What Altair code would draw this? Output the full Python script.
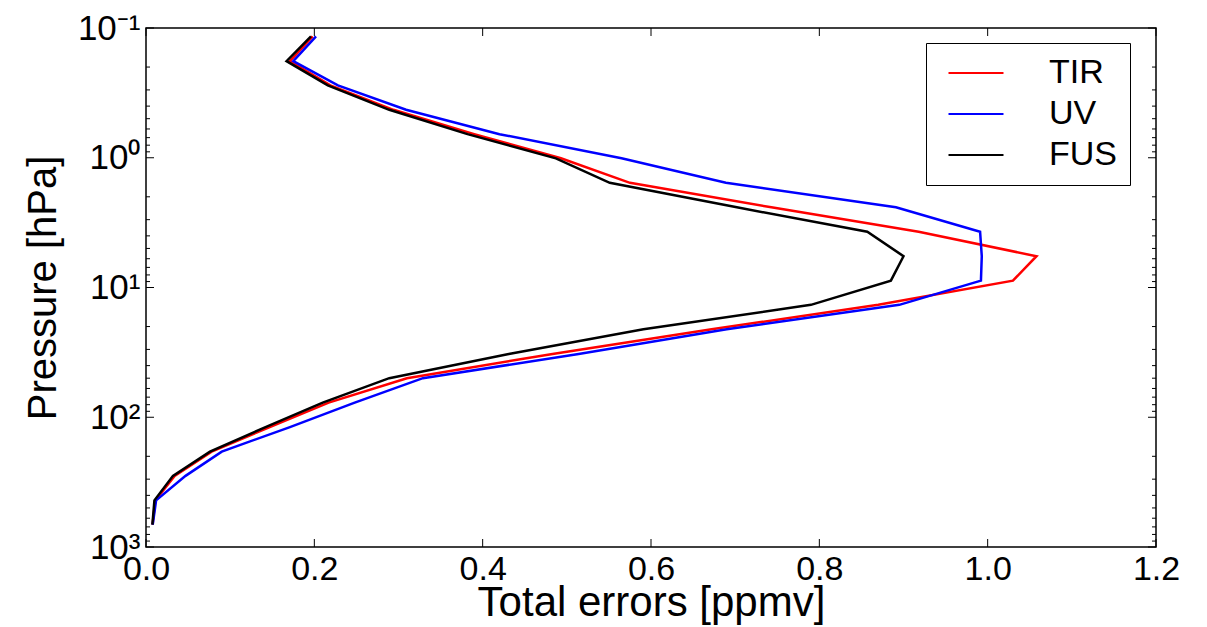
import altair as alt
import pandas as pd

# Pressure levels [hPa], bottom to top
pressure = [673, 437, 283, 184, 119, 77.2, 50.0, 32.5, 21.0, 13.6, 8.85,
            5.74, 3.72, 2.41, 1.56, 1.01, 0.658, 0.427, 0.277, 0.180, 0.116]

# Total errors [ppmv]
tir = [0.0078, 0.011, 0.034, 0.078, 0.147, 0.217, 0.310, 0.483, 0.672, 0.870, 1.030,
       1.058, 0.918, 0.743, 0.575, 0.493, 0.390, 0.294, 0.219, 0.171, 0.198]
uv = [0.008, 0.012, 0.047, 0.090, 0.171, 0.248, 0.329, 0.514, 0.690, 0.895, 0.992,
      0.993, 0.991, 0.891, 0.689, 0.565, 0.420, 0.309, 0.228, 0.175, 0.202]
fus = [0.0076, 0.010, 0.032, 0.076, 0.142, 0.210, 0.289, 0.431, 0.591, 0.790, 0.885,
       0.900, 0.857, 0.702, 0.551, 0.487, 0.382, 0.289, 0.216, 0.167, 0.196]

series_names = ["TIR", "UV", "FUS"]
series_colors = ["#ff0000", "#0000ff", "#000000"]

x_ticks = [0.0, 0.2, 0.4, 0.6, 0.8, 1.0, 1.2]
y_major = [0.1, 1, 10, 100, 1000]
y_major_labels = ["10⁻¹", "10⁰", "10¹", "10²", "10³"]
y_minor = [0.2, 0.3, 0.4, 0.5, 0.6, 0.7, 0.8, 0.9,
           2, 3, 4, 5, 6, 7, 8, 9,
           20, 30, 40, 50, 60, 70, 80, 90,
           200, 300, 400, 500, 600, 700, 800, 900]

W = 1010
H = 519
FONT = "Liberation Sans"

rows = []
for name, vals in zip(series_names, [tir, uv, fus]):
    for i, (p, v) in enumerate(zip(pressure, vals)):
        rows.append({"series": name, "level": i, "pressure": p, "error": v})
df = pd.DataFrame(rows)

label_expr = " : ".join(
    f"datum.value == {v} ? '{l}'" for v, l in zip(y_major, y_major_labels)
) + " : ''"

xscale = alt.Scale(domain=[0, 1.2], nice=False, zero=False)
yscale = alt.Scale(type="log", domain=[0.1, 1000], reverse=True, nice=False)

xaxis = alt.Axis(values=x_ticks, format=".1f", title="Total errors [ppmv]",
                 ticks=False, domain=False, grid=False, labelFontSize=34,
                 labelFont=FONT, labelPadding=5, labelFlush=False,
                 labelColor="black", labelOverlap=False,
                 titleFont=FONT, titleFontSize=42, titleFontWeight="normal",
                 titleColor="black", titleX=W / 2, titleY=68,
                 titleBaseline="alphabetic")
yaxis = alt.Axis(values=y_major, labelExpr=label_expr, title="Pressure [hPa]",
                 ticks=False, domain=False, grid=False, labelFontSize=35,
                 labelFont=FONT, labelPadding=6, labelFlush=False,
                 labelColor="black", labelOverlap=False,
                 titleFont=FONT, titleFontSize=40, titleFontWeight="normal",
                 titleColor="black", titleX=-91, titleY=H / 2,
                 titleAngle=-90, titleBaseline="alphabetic")

lines = alt.Chart(df).mark_line(strokeWidth=2.5).encode(
    x=alt.X("error:Q", scale=xscale, axis=xaxis),
    y=alt.Y("pressure:Q", scale=yscale, axis=yaxis),
    color=alt.Color("series:N",
                    scale=alt.Scale(domain=series_names, range=series_colors),
                    legend=alt.Legend(orient="none", legendX=780, legendY=15,
                                      title=None, symbolType="M-2,0H2",
                                      symbolSize=756, symbolOffset=20,
                                      symbolStrokeWidth=2,
                                      labelFont=FONT, labelFontSize=34,
                                      labelOffset=56, rowPadding=7, padding=13,
                                      strokeColor="black", fillColor="white",
                                      labelColor="black")),
    order=alt.Order("level:Q"),
)

ymaj_df = pd.DataFrame({"pressure": y_major})
ymin_df = pd.DataFrame({"pressure": y_minor})
xt_df = pd.DataFrame({"error": x_ticks})

def yrule(data, x0, x1):
    return alt.Chart(data).mark_rule(color="black", strokeWidth=1).encode(
        y=alt.Y("pressure:Q", scale=yscale, axis=yaxis),
        x=alt.value(x0), x2=alt.value(x1))

def xrule(data, y0, y1):
    return alt.Chart(data).mark_rule(color="black", strokeWidth=1).encode(
        x=alt.X("error:Q", scale=xscale, axis=xaxis),
        y=alt.value(y0), y2=alt.value(y1))

ticks = [
    yrule(ymaj_df, 0, 8), yrule(ymaj_df, W - 8, W),
    yrule(ymin_df, 0, 4), yrule(ymin_df, W - 4, W),
    xrule(xt_df, H - 8, H), xrule(xt_df, 0, 8),
]

chart = alt.layer(lines, *ticks).properties(
    width=W, height=H,
    background="white",
    autosize=alt.AutoSizeParams(type="none"),
    padding={"left": 138, "top": 20, "right": 40, "bottom": 80},
).configure_view(stroke="black", strokeWidth=1.5)

chart.save("out.html", embed_options={"renderer": "svg", "actions": False})
